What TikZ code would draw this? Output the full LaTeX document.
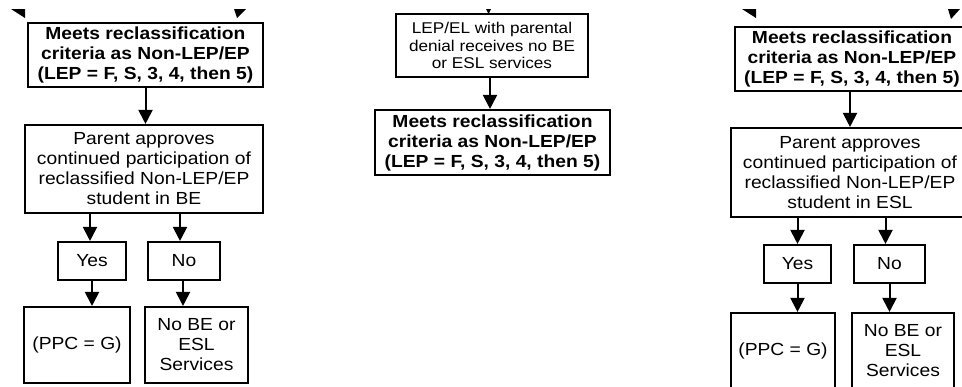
\documentclass[tikz,border=0pt]{standalone}
\usepackage{fontspec}
\setmainfont{Liberation Sans}[FakeStretch=1.1]
\usetikzlibrary{arrows.meta}
\tikzset{
  box/.style={draw, line width=2.1pt, inner sep=0pt, align=center,
    font=\fontsize{17.5}{20}\selectfont},
  bbox/.style={box, font=\fontsize{17.5}{20}\selectfont\bfseries},
  sbox/.style={box, font=\fontsize{15.6}{17.5}\selectfont},
  arr/.style={line width=2pt, -{Triangle[width=14pt,length=14pt]}},
  tipfill/.style={fill=black}
}
\begin{document}
\begin{tikzpicture}[x=1pt,y=-1pt]
\useasboundingbox (0,0) rectangle (962,386);
\fill[white] (0,0) rectangle (962,386);
\clip (0,0) rectangle (962,386);

% partial arrowheads at top edge
\fill[tipfill] (11,9) -- (25,9) -- (25,18) -- cycle;
\fill[tipfill] (234,9) -- (246,9) -- (237,18) -- cycle;
\fill[tipfill] (486,9) -- (491,9) -- (488.5,14) -- cycle;
\fill[tipfill] (742,9) -- (756,9) -- (756,18) -- cycle;
\fill[tipfill] (948,9) -- (960,9) -- (951,19) -- cycle;

% ---------- left panel ----------
\node[bbox, minimum width=235pt, minimum height=64pt] (L1) at (145.5,55)
  {Meets reclassification\\criteria as Non-LEP/EP\\(LEP = F, S, 3, 4, then 5)};
\node[box, minimum width=238pt, minimum height=88pt] (L2) at (144,169)
  {Parent approves\\continued participation of\\reclassified Non-LEP/EP\\student in BE};
\node[box, minimum width=68pt, minimum height=38pt] (LY) at (92,261) {Yes};
\node[box, minimum width=72pt, minimum height=38pt] (LN) at (184,261) {No};
\node[box, minimum width=106pt, minimum height=76pt] (LP) at (77,345) {(PPC = G)};
\node[box, minimum width=103pt, minimum height=76pt] (LB) at (196.5,345)
  {No BE or\\ESL\\Services};

\draw[arr] (L1.south) -- (L1.south |- L2.north);
\draw[arr] ([xshift=-2pt]LY.north |- L2.south) -- ([xshift=-2pt]LY.north);
\draw[arr] ([xshift=-4pt]LN.north |- L2.south) -- ([xshift=-4pt]LN.north);
\draw[arr] (LY.south) -- (LY.south |- LP.north);
\draw[arr] ([xshift=-1pt]LN.south) -- ([xshift=-1pt]LN.south |- LB.north);

% ---------- middle panel ----------
\node[sbox, minimum width=192pt, minimum height=63pt] (M1) at (492,45.5)
  {LEP/EL with parental\\denial receives no BE\\or ESL services};
\node[bbox, minimum width=235pt, minimum height=65pt] (M2) at (492.5,142.5)
  {Meets reclassification\\criteria as Non-LEP/EP\\(LEP = F, S, 3, 4, then 5)};
\draw[arr] ([xshift=-2pt]M1.south) -- ([xshift=-2pt]M1.south |- M2.north);

% ---------- right panel ----------
\node[bbox, minimum width=234pt, minimum height=64pt] (R1) at (852,59)
  {Meets reclassification\\criteria as Non-LEP/EP\\(LEP = F, S, 3, 4, then 5)};
\node[box, minimum width=238pt, minimum height=89pt] (R2) at (850,172.5)
  {Parent approves\\continued participation of\\reclassified Non-LEP/EP\\student in ESL};
\node[box, minimum width=67pt, minimum height=38pt] (RY) at (797.5,264) {Yes};
\node[box, minimum width=71pt, minimum height=38pt] (RN) at (889.5,264) {No};
\node[box, minimum width=104pt, minimum height=76pt] (RP) at (783,351) {(PPC = G)};
\node[box, minimum width=102pt, minimum height=76pt] (RB) at (903,351)
  {No BE or\\ESL\\Services};

\draw[arr] ([xshift=-2pt]R1.south) -- ([xshift=-2pt]R1.south |- R2.north);
\draw[arr] (RY.north |- R2.south) -- (RY.north);
\draw[arr] ([xshift=-4pt]RN.north |- R2.south) -- ([xshift=-4pt]RN.north);
\draw[arr] (RY.south) -- (RY.south |- RP.north);
\draw[arr] (RN.south) -- (RN.south |- RB.north);
\end{tikzpicture}
\end{document}
